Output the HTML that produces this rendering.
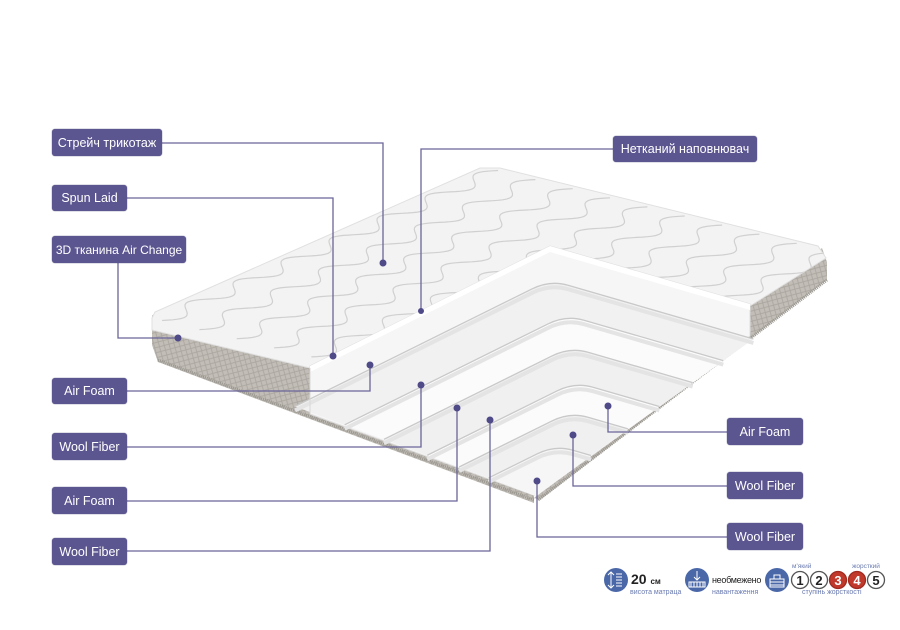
<!DOCTYPE html>
<html><head><meta charset="utf-8"><style>
html,body{margin:0;padding:0;background:#fff;}
body{width:900px;height:630px;overflow:hidden;position:relative;font-family:"Liberation Sans","DejaVu Sans",sans-serif;}
.lb{position:absolute;background:#5b5590;color:#fff;font-size:12.5px;border-radius:3px;display:flex;align-items:center;justify-content:center;white-space:nowrap;box-shadow:0 0 1px #3c3870;}
svg{position:absolute;left:0;top:0;}
.t{position:absolute;white-space:nowrap;}
</style></head><body>
<svg id="s" width="900" height="630" viewBox="0 0 900 630">
<defs>
<pattern id="dia" width="7" height="7" patternUnits="userSpaceOnUse" patternTransform="rotate(30)">
<rect width="7" height="7" fill="#c2beb7"/><path d="M0 0L7 7M7 0L0 7" stroke="#aaa69f" stroke-width="0.8"/>
</pattern>
<clipPath id="topc"><polygon points="152,318 155,312 480,168 500,168 818,246 826,258 750,306 550,247 310,368 152,330"/></clipPath>
</defs>
<polygon points="152,315 310,368 310,412 534,492 534,503 158,362 152,345" fill="url(#dia)"/>
<polyline points="158,360 534,500" stroke="#9a9790" stroke-width="3" stroke-dasharray="1 1" fill="none"/>
<polygon points="822,248 827,262 827,280 540,500 534,498 750,335 750,306" fill="url(#dia)"/>
<polyline points="827,280 538,500" stroke="#9a9790" stroke-width="3" stroke-dasharray="1 1" fill="none"/>
<polygon points="152,318 155,312 480,168 500,168 818,246 826,258 750,306 550,247 310,368 152,330" fill="#f3f3f3" stroke="#e0e0e0"/>
<g id="quilt" clip-path="url(#topc)" stroke="#d0d0d0" stroke-width="1.2" fill="none"></g>
<polygon points="310,366 550,246 750,304 750,336 536,496 310,414" fill="#f6f6f6" stroke="#dedede"/>
<g id="layers"></g>
<g id="conn" stroke="#6a6599" stroke-width="1.3" fill="none">
<polyline points="162,143 383,143 383,263"/>
<polyline points="127,198 333,198 333,356"/>
<polyline points="118,263 118,338 178,338"/>
<polyline points="613,149 421,149 421,311"/>
<polyline points="127,391 370,391 370,365"/>
<polyline points="127,447 421,447 421,385"/>
<polyline points="127,501 457,501 457,408"/>
<polyline points="127,551 490,551 490,420"/>
<polyline points="727,432 608,432 608,406"/>
<polyline points="727,486 573,486 573,435"/>
<polyline points="727,537 537,537 537,481"/>
</g>
<g fill="#4f4a88">
<circle cx="383" cy="263" r="3.5"/><circle cx="333" cy="356" r="3.5"/><circle cx="178" cy="338" r="3.5"/>
<circle cx="421" cy="311" r="3"/><circle cx="370" cy="365" r="3.5"/><circle cx="421" cy="385" r="3.5"/>
<circle cx="457" cy="408" r="3.5"/><circle cx="490" cy="420" r="3.5"/><circle cx="608" cy="406" r="3.5"/>
<circle cx="573" cy="435" r="3.5"/><circle cx="537" cy="481" r="3.5"/>
</g>
<circle cx="616" cy="580" r="12" fill="#4a67a8"/>
<path d="M611 572v16M608 575l3-3 3 3M608 585l3 3 3-3M616 574h6M616 577h6M616 580h6M616 583h6M616 586h6" stroke="#fff" stroke-width="1" fill="none"/>
<circle cx="697" cy="580" r="12" fill="#4a67a8"/>
<path d="M697 571v9M694 577l3 3 3-3M689 582h16v5h-16zM691 582v5M694 582v5M697 582v5M700 582v5M703 582v5" stroke="#fff" stroke-width="1" fill="none"/>
<circle cx="777" cy="580" r="12" fill="#4a67a8"/>
<path d="M770 579h14v8h-14zM770 582h14M770 585h14M774 579v-4h6v4" stroke="#fff" stroke-width="1" fill="none"/>
<g font-family="Liberation Sans,sans-serif" font-weight="bold" font-size="13" text-anchor="middle">
<circle cx="800" cy="580" r="8.5" fill="#fff" stroke="#555" stroke-width="1.3"/><text x="800" y="585" fill="#222">1</text>
<circle cx="819" cy="580" r="8.5" fill="#fff" stroke="#555" stroke-width="1.3"/><text x="819" y="585" fill="#222">2</text>
<circle cx="838" cy="580" r="8.5" fill="#c0392b" stroke="#a02a20" stroke-width="1.3"/><text x="838" y="585" fill="#fff">3</text>
<circle cx="857" cy="580" r="8.5" fill="#c0392b" stroke="#a02a20" stroke-width="1.3"/><text x="857" y="585" fill="#fff">4</text>
<circle cx="876" cy="580" r="8.5" fill="#fff" stroke="#555" stroke-width="1.3"/><text x="876" y="585" fill="#222">5</text>
</g>
</svg>
<div class="t" style="left:631px;top:571px;font-size:14px;font-weight:bold;color:#222;">20 <span style="font-size:8px;">см</span></div>
<div class="t" style="left:630px;top:589px;font-size:7px;color:#6a7bb0;">висота матраца</div>
<div class="t" style="left:712px;top:575px;font-size:9px;color:#222;letter-spacing:-0.3px;">необмежено</div>
<div class="t" style="left:712px;top:589px;font-size:7px;color:#6a7bb0;">навантаження</div>
<div class="t" style="left:792px;top:563px;font-size:6.5px;color:#6a7bb0;">м'який</div>
<div class="t" style="left:852px;top:563px;font-size:6.5px;color:#6a7bb0;">жорсткий</div>
<div class="t" style="left:802px;top:589px;font-size:7px;color:#6a7bb0;">ступінь жорсткості</div>

<div class="lb" style="left:52px;top:129px;width:110px;height:27px;">Стрейч трикотаж</div>
<div class="lb" style="left:52px;top:185px;width:75px;height:26px;">Spun Laid</div>
<div class="lb" style="left:52px;top:236px;width:134px;height:27px;font-size:12px;">3D тканина Air Change</div>
<div class="lb" style="left:613px;top:136px;width:144px;height:26px;">Нетканий наповнювач</div>
<div class="lb" style="left:52px;top:378px;width:75px;height:26px;">Air Foam</div>
<div class="lb" style="left:52px;top:433px;width:75px;height:27px;">Wool Fiber</div>
<div class="lb" style="left:52px;top:487px;width:75px;height:27px;">Air Foam</div>
<div class="lb" style="left:52px;top:538px;width:75px;height:27px;">Wool Fiber</div>
<div class="lb" style="left:727px;top:418px;width:76px;height:27px;">Air Foam</div>
<div class="lb" style="left:727px;top:472px;width:76px;height:27px;">Wool Fiber</div>
<div class="lb" style="left:727px;top:523px;width:76px;height:27px;">Wool Fiber</div>
<script>
var NS="http://www.w3.org/2000/svg";
function el(p,t,a){var e=document.createElementNS(NS,t);for(var k in a)e.setAttribute(k,a[k]);p.appendChild(e);return e;}
var L=document.getElementById('layers');
var cs=[[550,280],[566,315],[570,347],[575,382],[570,412],[555,445]];
var fills=['#f1f1f1','#fbfbfb','#f0f0f0','#fbfbfb','#f0f0f0','#f6f6f6'];
function stair(xl,yl,cx,cy,xr,yr,o){
 var r=18;
 var ax=cx-r, ay=cy+0.496*r, bx=cx+r, by=cy+0.29*r;
 return 'M'+xl+' '+(yl+o)+' L'+ax+' '+(ay+o)+' Q'+cx+' '+(cy+o)+' '+bx+' '+(by+o)+' L'+xr+' '+(yr+o);
}
cs.forEach(function(c,i){
 var cx=c[0],cy=c[1];
 var xl=(cy+0.496*cx-297.6)/(0.496+0.369); var yl=cy-0.496*(xl-cx);
 var xr=(879.2-cy+0.29*cx)/(0.29+0.717); var yr=cy+0.29*(xr-cx);
 el(L,'path',{d:stair(xl,yl,cx,cy,xr,yr,0)+' L536 496 Z',fill:fills[i]});
 el(L,'path',{d:stair(xl,yl,cx,cy,xr,yr,4),stroke:'#e4e4e4','stroke-width':4,fill:'none'});
 el(L,'path',{d:stair(xl,yl,cx,cy,xr,yr,0),stroke:'#c9c9c9','stroke-width':1.3,fill:'none'});
});
el(L,'polygon',{points:'310,366 550,246 750,304 750,310 550,252 310,372',fill:'#fff'});
el(L,'line',{x1:310,y1:368,x2:310,y2:414,stroke:'#d8d8d8'});
// quilt: rows along e1 (left edge direction), stacked along e2
var Q=document.getElementById('quilt');
var O=[152,318],e1=[336,-150],e2=[336,82];
function P(u,v){return [O[0]+e1[0]*u+e2[0]*v,O[1]+e1[1]*u+e2[1]*v];}
for(var r=0;r<=9;r++){
 var v=r/9+0.03,d='';
 for(var k=0;k<=140;k++){var u=k/140;var vv=v+0.03*Math.sin(u*Math.PI*14);var p=P(u,vv);
  d+=(k===0?'M':'L')+p[0].toFixed(1)+' '+p[1].toFixed(1)+' ';}
 el(Q,'path',{d:d});
}
</script>
</body></html>
